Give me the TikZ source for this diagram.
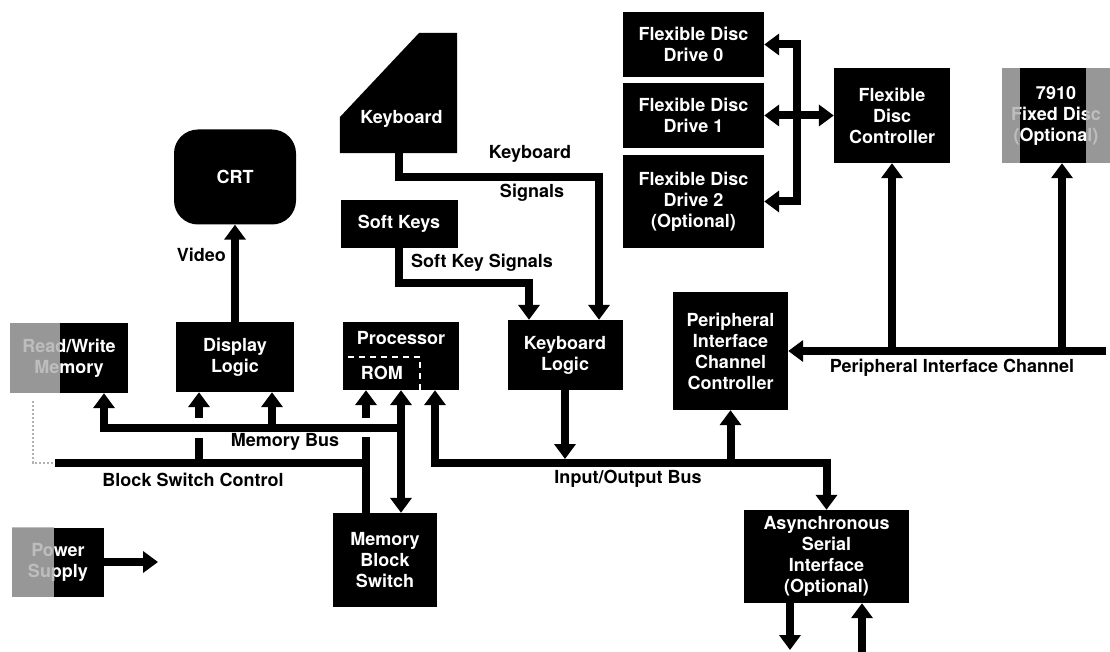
\documentclass[tikz,border=0pt]{standalone}
\usepackage{fontspec}
\setmainfont{TeX Gyre Heros}
\usetikzlibrary{arrows.meta,calc}

\begin{document}
\begin{tikzpicture}[x=1pt,y=-1pt,
    blk/.style={fill=black, text=white, font=\fontsize{18}{21}\selectfont\bfseries, align=center, inner sep=0pt},
    lbl/.style={font=\fontsize{18}{21}\selectfont\bfseries, align=center, inner sep=0pt},
    bus/.style={line width=8pt},
    fade/.style={fill=black!30, opacity=.85},
    >={Triangle[length=15pt,width=21pt]}]
    \useasboundingbox (0,0) rectangle (1110,652);

    \node[blk, minimum width=122, minimum height=95, rounded corners=24pt] (crt) at (235,177) {CRT};
    \node[blk, minimum width=118, minimum height=70] (rw) at (69,358) {Read/Write\\Memory};
    \node[blk, minimum width=118, minimum height=70] (dl) at (235,357) {Display\\Logic};
    \node[blk, minimum width=116, minimum height=68] (pr) at (401,356) {};
    \node[blk, minimum width=115, minimum height=70] (kl) at (565,355) {Keyboard\\Logic};
    \node[blk, minimum width=117, minimum height=48] (sk) at (399,224) {Soft Keys};
    \node[minimum width=117, minimum height=120, inner sep=0pt] (kb) at (398.5,93) {};
    \node[blk, minimum width=104, minimum height=94] (mbs) at (385,560) {Memory\\Block\\Switch};
    \node[blk, minimum width=92, minimum height=69] (ps) at (58,562) {Power\\Supply};
    \foreach \i/\y in {0/44.5, 1/115.5} {
        \node[blk, minimum width=141, minimum height=65] (fd\i) at (693.5,\y) {Flexible Disc\\Drive \i};
    }
    \node[blk, minimum width=141, minimum height=93] (fd2) at (693.5,201.5) {Flexible Disc\\Drive 2\\(Optional)};
    \node[blk, minimum width=116, minimum height=95] (fdc) at (892,115.5) {Flexible\\Disc\\Controller};
    \node[blk, minimum width=108, minimum height=95] (fx) at (1056,115.5) {7910\\Fixed Disc\\(Optional)};
    \node[blk, minimum width=115, minimum height=118] (pic) at (730.5,351) {Peripheral\\Interface\\Channel\\Controller};
    \node[blk, minimum width=165, minimum height=93] (as) at (826.5,556.5) {Asynchronous\\Serial\\Interface\\(Optional)};

    \fill (kb.north east) -- (kb.south east) -- (kb.south west) -- ++(0,-36) -- ($(kb.north east)+(-38,0)$) -- cycle;
    \node[lbl, text=white] at ($(kb.south)+(3,-34)$) {Keyboard};
    \node[lbl, text=white] at ($(pr.north)+(0,16)$) {Processor};
    \node[lbl, text=white] at ($(pr.south west)+(39,-17)$) {ROM};
    \draw[white, line width=2pt, dash pattern=on 6pt off 5pt] ($(pr.north west)+(5,35)$) -| ($(pr.south west)+(77,0)$);

    \fill[fade] (rw.north west) rectangle ($(rw.south west)+(50,0)$);
    \fill[fade] (ps.north west) rectangle ($(ps.south west)+(42,0)$);
    \fill[fade] (fx.north west) rectangle ($(fx.south west)+(18,0)$);
    \fill[fade] ($(fx.north east)+(-24,0)$) rectangle (fx.south east);

    \coordinate (mb) at (0,428);
    \coordinate (iob) at (0,463);
    \coordinate (pce) at (1106,351);
    \coordinate (psout) at (158,562);
    \coordinate (aout) at (790,650);
    \coordinate (ain) at (862,652);

    \draw[bus,->] (dl) -- (crt);
    \node[lbl, anchor=east] at (226,255) {Video};

    \draw[bus,->] (kb.south) -- ++(0,24) -| ($(kl.north)+(34,0)$);
    \draw[bus,->] (sk.south) -- ++(0,35) -| ($(kl.north)+(-36,0)$);
    \node[lbl] at (530,154) {Keyboard};
    \node[lbl] at (532,193) {Signals};
    \node[lbl] at (482,263) {Soft Key Signals};

    \draw[bus,<->] (fd0.east) -- ++(33,0) |- (fd2.east);
    \draw[bus,<->] (fd1) -- (fdc);

    \draw[bus,->] (pce) -- (pic);
    \draw[bus,->] (pce -| fdc) -- (fdc);
    \draw[bus,->] ($(pce -| fx.south)+(6,0)$) -- ($(fx.south)+(6,0)$);
    \node[lbl] at (952,368) {Peripheral Interface Channel};

    \draw[bus,<->] ($(pr.south)+(34,0)$) |- (iob -| as.north) -- (as.north);
    \draw[bus,->] (iob -| pic.south) -- (pic.south);
    \draw[bus,->, shorten >=4pt] (kl.south) -- (iob -| kl.south);
    \node[lbl] at (628,479) {Input/Output Bus};

    \draw[bus,->] (mb -| pr.south) -| ($(rw.south)+(35,0)$);
    \draw[bus,<->] (pr.south) -- (pr.south |- mbs.north);
    \draw[bus,->] ($(mb -| dl.south)+(37,0)$) -- ($(dl.south)+(37,0)$);
    \node[lbl] at (285,442) {Memory Bus};

    \draw[black!30, line width=2pt, dotted] ($(rw.south)+(-36,8)$) |- ($(iob)+(58,0)$);
    \draw[bus] ($(iob)+(55,0)$) -- ($(iob -| pr.south)+(-39,0)$);
    \draw[bus] ($(mb -| pr.south)+(-35,9)$) -- ($(mbs.north -| pr.south)+(-35,0)$);
    \draw[bus,->] ($(mb -| pr.south)+(-35,-10)$) -- ($(pr.south)+(-35,0)$);
    \draw[bus] ($(iob -| dl.south)+(-36,4)$) -- ($(mb -| dl.south)+(-36,10)$);
    \draw[bus,->] ($(mb -| dl.south)+(-36,-10)$) -- ($(dl.south)+(-36,0)$);
    \node[lbl] at (193,480) {Block Switch Control};

    \draw[bus,->] (ps) -- (psout);
    \draw[bus,->] (as.south -| aout) -- (aout);
    \draw[bus,->] (ain) -- (as.south -| ain);
\end{tikzpicture}
\end{document}
